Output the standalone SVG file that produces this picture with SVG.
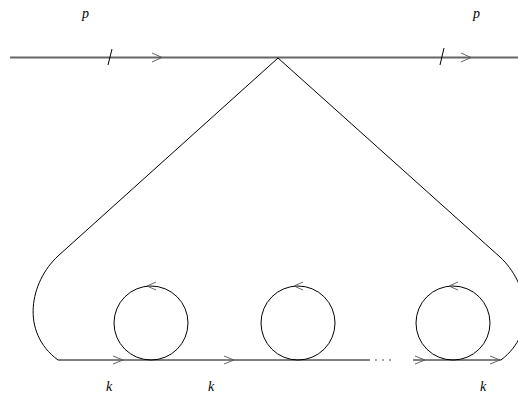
<svg xmlns="http://www.w3.org/2000/svg" width="518" height="394" viewBox="0 0 518 394">
<style>
.ext{stroke:#666;stroke-width:1.8;fill:none}
.ln{stroke:#000;stroke-width:1;fill:none}
.arr{stroke:#555;stroke-width:0.9;fill:none}
.lbl{font-family:"Liberation Serif",serif;font-style:italic;font-size:14px;fill:#000}
</style>
<rect width="518" height="394" fill="#fff"/>
<g id="connectors">
<line class="ext" x1="10" y1="57.5" x2="518" y2="57.5"/>
<line class="ln" x1="108" y1="65" x2="112" y2="49"/>
<line class="ln" x1="440" y1="65" x2="444" y2="48"/>
<path class="arr" d="M152,53 L162,57.5 L152,62"/>
<path class="arr" d="M461,53 L471,57.5 L461,62"/>
<path class="ln" d="M278,58 L58,256 C30,282 20,332 58,360 L370,360"/>
<path class="ln" d="M278,58 L500,257 C528,283 538,332 501,360 L413,360"/>
<path class="arr" d="M113,356 L123,360 L113,364"/>
<path class="arr" d="M224,356 L234,360 L224,364"/>
<path class="arr" d="M415,356 L425,360 L415,364"/>
<path class="arr" d="M490,356 L500,360 L490,364"/>
<circle cx="376" cy="360" r="0.7" fill="#000"/>
<circle cx="383" cy="360" r="0.7" fill="#000"/>
<circle cx="390" cy="360" r="0.7" fill="#000"/>
</g>
<g id="loop1">
<circle class="ln" cx="151" cy="323" r="37"/>
<path class="arr" d="M156,282 L147,286 L156,290"/>
</g>
<g id="loop2">
<circle class="ln" cx="298" cy="323" r="37"/>
<path class="arr" d="M303,282 L294,286 L303,290"/>
</g>
<g id="loop3">
<circle class="ln" cx="453" cy="323" r="37"/>
<path class="arr" d="M458,282 L449,286 L458,290"/>
</g>
<g id="labels">
<text class="lbl" x="82" y="18">p</text>
<text class="lbl" x="473" y="18">p</text>
<text class="lbl" x="106" y="391">k</text>
<text class="lbl" x="208" y="391">k</text>
<text class="lbl" x="480" y="391">k</text>
</g>
</svg>
